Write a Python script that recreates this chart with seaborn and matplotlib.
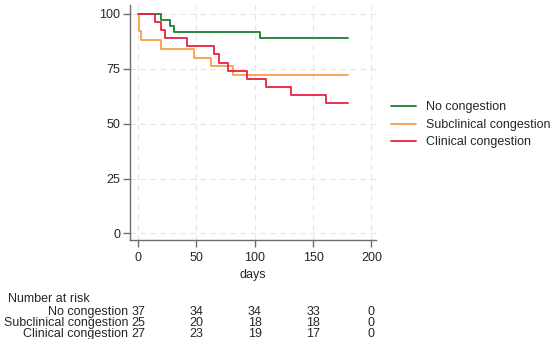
import numpy as np
import pandas as pd
import matplotlib
matplotlib.use("Agg")
import matplotlib.pyplot as plt
import matplotlib.transforms as mtransforms
import seaborn as sns

sns.set_style("white")
plt.rcParams['font.family'] = ['Liberation Sans', 'DejaVu Sans']

groups = ['No congestion', 'Subclinical congestion', 'Clinical congestion']
colors = ['#1f7d30', '#f7a04a', '#ec2040']

# Kaplan-Meier step points (days, survival %)
no_days = [0, 19.5, 27.7, 30.6, 104.9, 180]
no_surv = [100, 97.3, 94.6, 91.9, 89.2, 89.2]
sub_days = [0, 0.4, 2.3, 19.5, 47.7, 62.9, 81.4, 180]
sub_surv = [100, 92.0, 88.0, 84.0, 80.0, 76.0, 72.0, 72.0]
cli_days = [0, 14.3, 20.0, 22.9, 42.0, 65.2, 69.4, 77.1, 93.7, 110.0, 130.9, 161.5, 180]
cli_surv = [100, 96.3, 92.6, 88.9, 85.2, 81.5, 77.8, 74.1, 70.4, 66.7, 63.0, 59.3, 59.3]

risk_times = [0, 50, 100, 150, 200]
risk_no = [37, 34, 34, 33, 0]
risk_sub = [25, 20, 18, 18, 0]
risk_cli = [27, 23, 19, 17, 0]

df = pd.concat([
    pd.DataFrame({'days': no_days, 'surv': no_surv, 'group': groups[0]}),
    pd.DataFrame({'days': sub_days, 'surv': sub_surv, 'group': groups[1]}),
    pd.DataFrame({'days': cli_days, 'surv': cli_surv, 'group': groups[2]}),
], ignore_index=True)

fs = 9
fig = plt.figure(figsize=(5.5, 3.39), dpi=100)
W, H = 550, 339
ax = fig.add_axes([130 / W, 1 - 240 / H, (376 - 130) / W, (240 - 5) / H])

sns.lineplot(data=df, x='days', y='surv', hue='group', palette=colors,
             hue_order=groups, estimator=None, sort=False,
             drawstyle='steps-post', linewidth=1.3, ax=ax)

ax.set_xlim(-7, 204)
ax.set_ylim(-3, 104)
ax.set_xticks(risk_times)
ax.set_yticks([0, 25, 50, 75, 100])
ax.grid(True, color='#e4e4e4', linestyle=(0, (5, 4)), linewidth=0.8)
for s in ['top', 'right']:
    ax.spines[s].set_visible(False)
for s in ['left', 'bottom']:
    ax.spines[s].set_color('#6e6e6e')
    ax.spines[s].set_linewidth(1.0)
ax.tick_params(axis='both', direction='out', length=5, width=1, color='#6e6e6e',
               labelsize=fs, pad=2, left=True, bottom=True)
ax.tick_params(axis='x', pad=3.5)
ax.set_xlabel('days', fontsize=fs, labelpad=4)
ax.set_ylabel('')

ax.legend(loc='upper left', bbox_to_anchor=(380 / W, 1 - 90 / H),
          bbox_transform=fig.transFigure, frameon=False, fontsize=fs,
          handlelength=2.0, handletextpad=0.8, labelspacing=0.45)

# Number at risk table
trans = mtransforms.blended_transform_factory(ax.transData, fig.transFigure)
fig.text(8 / W, 1 - 301.5 / H, 'Number at risk', fontsize=fs, va='baseline')
rows = [risk_no, risk_sub, risk_cli]
row_y = [315, 326, 337]
for name, vals, y in zip(groups, rows, row_y):
    fig.text(128 / W, 1 - y / H, name, fontsize=fs, ha='right', va='baseline')
    for t, v in zip(risk_times, vals):
        ax.text(t, 1 - y / H, str(v), transform=trans, fontsize=fs,
                ha='center', va='baseline', clip_on=False)

fig.savefig('out.png', dpi=100)
